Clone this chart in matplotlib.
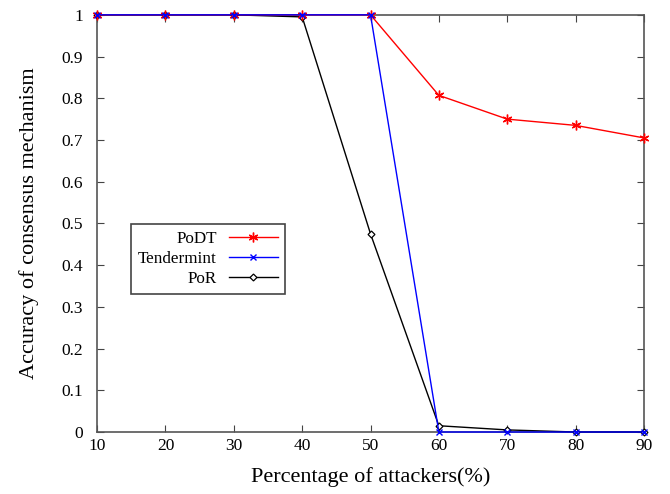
import matplotlib
matplotlib.use("Agg")
import matplotlib.pyplot as plt

plt.rcParams['font.family'] = ['Liberation Serif', 'DejaVu Serif']

attackers = [10, 20, 30, 40, 50, 60, 70, 80, 90]
podt = [1, 1, 1, 1, 1, 0.807, 0.75, 0.735, 0.705]
tendermint = [1, 1, 1, 1, 1, 0, 0, 0, 0]
por = [1, 1, 1, 0.995, 0.475, 0.015, 0.005, 0, 0]
xticks = [10, 20, 30, 40, 50, 60, 70, 80, 90]
yticks = [0, 0.1, 0.2, 0.3, 0.4, 0.5, 0.6, 0.7, 0.8, 0.9, 1]
yticklabels = ['0', '0.1', '0.2', '0.3', '0.4', '0.5', '0.6', '0.7', '0.8', '0.9', '1']

fig = plt.figure(figsize=(6.70, 4.94), dpi=100)
ax = fig.add_axes([0.145, 0.1255, 0.816, 0.8445])

ax.plot(attackers, podt, color='red', marker=(6, 2, 0), markersize=7, lw=1, label='PoDT', clip_on=False, zorder=4)
ax.plot(attackers, tendermint, color='blue', marker='x', markersize=5, lw=1, label='Tendermint', clip_on=False, zorder=5)
ax.plot(attackers, por, color='black', marker='D', markersize=3.5, markerfacecolor='white',
        markeredgewidth=0.9, lw=1, label='PoR', clip_on=False, zorder=3)

ax.set_xlim(10, 90)
ax.set_ylim(0, 1)
ax.set_xticks(xticks)
ax.set_yticks(yticks)
ax.set_yticklabels(yticklabels)
ax.tick_params(direction='in', top=True, right=True, labelsize=12.5, length=5, color='#444444')
ax.tick_params(axis='x', pad=4)
ax.tick_params(axis='y', pad=10)
for s in ax.spines.values():
    s.set_color('#555555')
    s.set_linewidth(1.2)

ax.set_xlabel('Percentage of attackers(%)', fontsize=16, labelpad=10)
ax.set_ylabel('Accuracy of consensus mechanism', fontsize=16, labelpad=16)

leg = ax.legend(loc='lower left', bbox_to_anchor=(0.062, 0.331), markerfirst=False,
                fontsize=12.3, fancybox=False, edgecolor='#444444', framealpha=1,
                handlelength=2.9, handletextpad=0.7, borderpad=0.4, labelspacing=0.25,
                borderaxespad=0)
leg.get_frame().set_linewidth(1.2)
for t in leg.get_texts():
    t.set_ha('right')

fig.savefig('out.png', dpi=100)
